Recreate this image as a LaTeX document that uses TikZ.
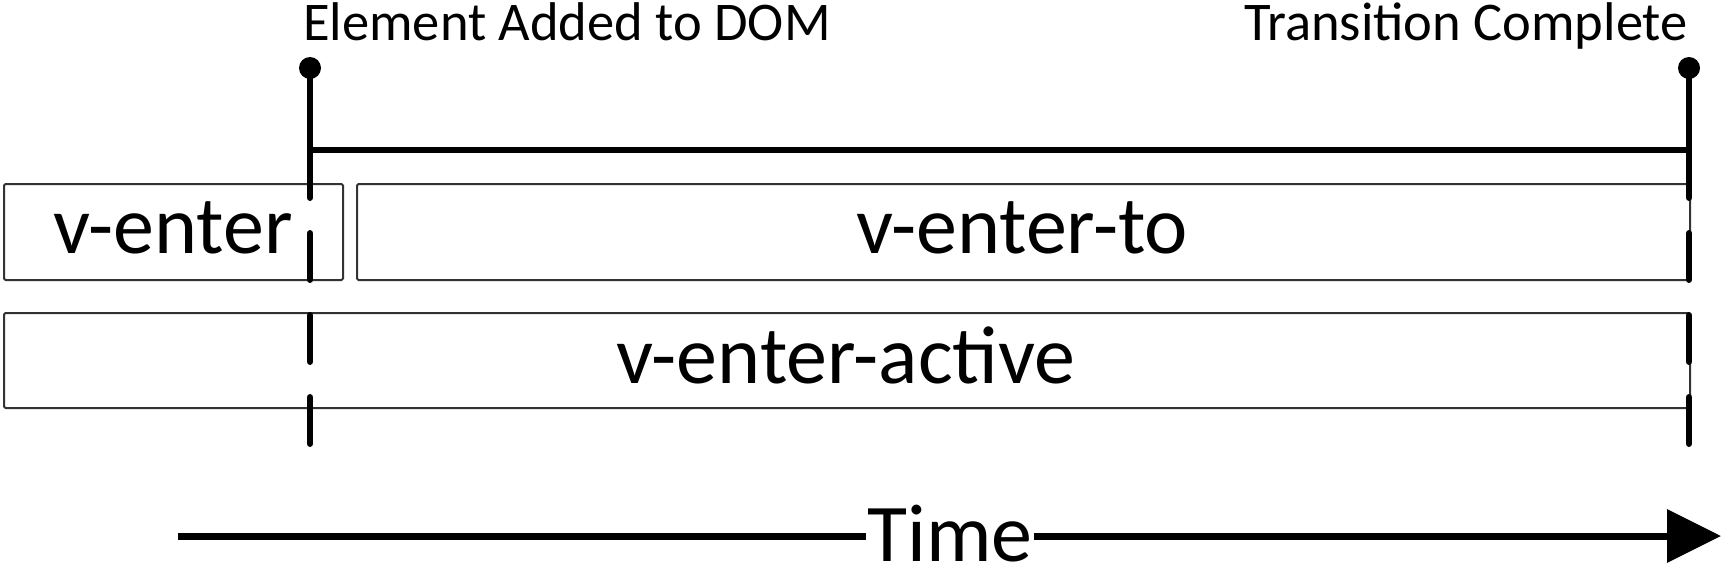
\documentclass[tikz,border=0pt]{standalone}
\usepackage{fontspec}
\setmainfont{Carlito}
\usetikzlibrary{arrows.meta}
\begin{document}
\begin{tikzpicture}[x=1pt,y=-1pt,
  box/.style={draw=black!80, line width=2pt, rounded corners=1.5pt, inner sep=0pt, anchor=north west},
  bigtext/.style={font=\fontsize{82}{90}\selectfont, inner sep=0pt, anchor=base},
  toplabel/.style={font=\fontsize{54.5}{62}\selectfont, inner sep=0pt},
  marker/.style={circle, fill=black, inner sep=0pt, minimum size=22pt},
  solidline/.style={line width=6.5pt, line cap=round},
  dashline/.style={line width=6.5pt, line cap=round, dash pattern=on 46.5pt off 35.5pt, dash phase=46.5pt},
  bar/.style={line width=6pt},
  timeline/.style={line width=7pt}
]
\useasboundingbox (0,0) rectangle (1725,568);

% boxes
\node[box, minimum width=339pt, minimum height=96pt] (enterbox) at (3,183) {};
\node[box, minimum width=1333pt, minimum height=96pt] (tobox) at (356,183) {};
\node[box, minimum width=1686pt, minimum height=95pt] (activebox) at (3,312) {};

\node[bigtext] (enterlbl) at (173,253) {v-enter};
\node[bigtext] (tolbl) at (1022,253) {v-enter-to};
\node[bigtext] (activelbl) at (846,383) {v-enter-active};

% markers
\node[marker] (startdot) at (310,68) {};
\node[marker] (enddot) at (1689,68) {};
\node[toplabel, anchor=base west] (startlbl) at (303,40) {Element Added to DOM};
\node[toplabel, anchor=base east] (endlbl) at (1688,40) {Transition Complete};

\coordinate (s1) at (310,197.75);
\coordinate (s2) at (310,443.75);
\coordinate (e1) at (1689,197.75);
\coordinate (e2) at (1689,443.75);
\coordinate (barL) at (310,150);
\coordinate (barR) at (1689,150);

\draw[solidline] (startdot.center) -- (s1);
\draw[dashline] (s1) -- (s2);
\draw[solidline] (enddot.center) -- (e1);
\draw[dashline] (e1) -- (e2);
\draw[bar] (barL) -- (barR);

% time arrow
\node[bigtext, inner xsep=1pt, text depth=0pt] (time) at (950,561) {Time};
\coordinate (tstart) at (178,536);
\coordinate (tend) at (1721,536);
\draw[timeline] (tstart) -- (time.west |- tstart);
\draw[timeline, -{Triangle[length=54pt,width=52pt]}] (time.east |- tstart) -- (tend);
\end{tikzpicture}
\end{document}
